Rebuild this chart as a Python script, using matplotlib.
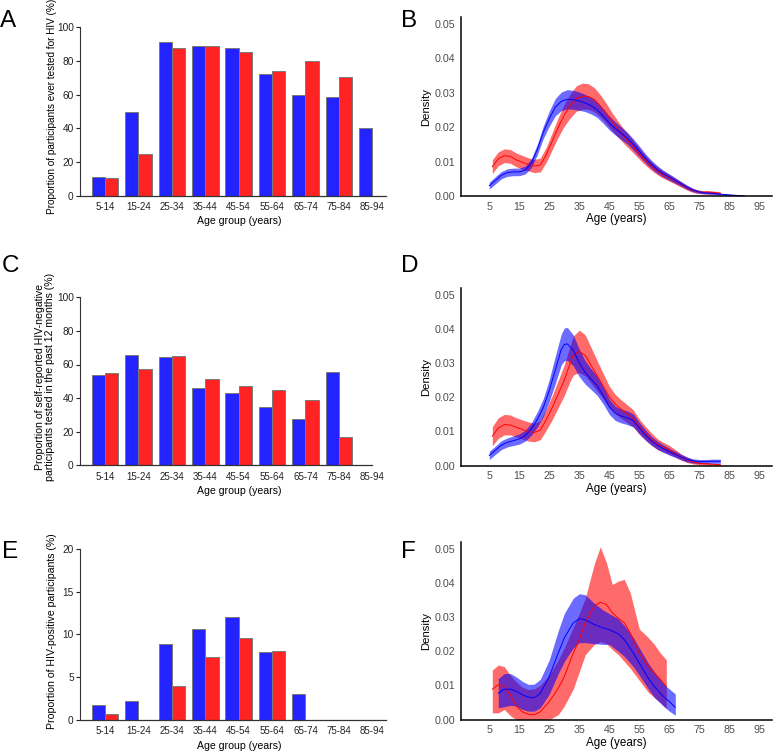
import numpy as np
import matplotlib
matplotlib.use("Agg")
import matplotlib.pyplot as plt

plt.rcParams['font.family'] = ['Liberation Sans', 'DejaVu Sans']

BLUE = '#2323FF'
RED = '#FF2323'

# ---- bar panels (A, C, E) ----
age_groups = ['5-14', '15-24', '25-34', '35-44', '45-54', '55-64', '65-74', '75-84', '85-94']

a_blue = [10.9, 49.5, 91.1, 89.1, 87.5, 72.3, 60.0, 58.8, 40.0]
a_red = [10.3, 24.8, 87.5, 88.9, 85.1, 74.1, 80.0, 70.3, 0.0]

c_blue = [53.6, 65.5, 64.7, 45.8, 43.3, 34.5, 27.4, 55.8, 0.0]
c_red = [55.2, 57.1, 64.9, 51.6, 47.2, 44.6, 39.1, 16.7, np.nan]

e_blue = [1.72, 2.15, 8.9, 10.6, 12.03, 7.93, 3.05, 0.0, 0.0]
e_red = [0.7, 0.0, 3.95, 7.34, 9.57, 8.09, 0.0, 0.0, 0.0]

# ---- density panels (B, D, F): age, estimate, lower, upper ----
b_blue_age = [5, 7, 9, 11, 13, 15, 17, 19, 21, 23, 25, 27, 29, 31, 33, 35, 37, 39, 41, 43, 45,
              47, 49, 51, 53, 55, 57, 59, 61, 63, 65, 67, 69, 71, 73, 75, 77, 79, 81, 84, 87, 90]
b_blue_mid = [.0030, .0045, .0060, .0068, .0070, .0070, .0075, .0095, .0135, .0185, .0225, .0258,
              .0275, .0281, .0280, .0276, .0270, .0262, .0250, .0232, .0212, .0196, .0182, .0168,
              .0150, .0130, .0110, .0092, .0077, .0065, .0055, .0045, .0035, .0025, .0017, .0012,
              .0009, .0008, .0006, .0004, .0002, .0000]
b_blue_lo = [.0020, .0035, .0050, .0057, .0059, .0059, .0064, .0082, .0120, .0167, .0203, .0233,
             .0248, .0253, .0252, .0249, .0245, .0238, .0228, .0211, .0192, .0177, .0164, .0151,
             .0134, .0115, .0097, .0080, .0066, .0055, .0046, .0037, .0028, .0019, .0012, .0008,
             .0006, .0005, .0004, .0002, .0001, .0000]
b_blue_hi = [.0040, .0056, .0071, .0079, .0081, .0081, .0087, .0108, .0150, .0203, .0247, .0283,
             .0302, .0309, .0307, .0302, .0295, .0286, .0272, .0253, .0232, .0215, .0200, .0185,
             .0166, .0145, .0123, .0104, .0088, .0075, .0064, .0053, .0042, .0031, .0022, .0016,
             .0012, .0011, .0009, .0006, .0003, .0001]

b_red_age = [6, 8, 10, 12, 14, 16, 18, 20, 22, 24, 26, 28, 30, 32, 34, 36, 38, 40, 42, 44, 46,
             48, 50, 52, 54, 56, 58, 60, 62, 64, 66, 68, 70, 72, 74, 76, 78, 80, 82]
b_red_mid = [.0085, .0108, .0117, .0115, .0105, .0098, .0092, .0087, .0090, .0120, .0160, .0200,
             .0235, .0262, .0283, .0290, .0289, .0280, .0262, .0240, .0215, .0193, .0172, .0153,
             .0133, .0113, .0095, .0080, .0067, .0057, .0048, .0038, .0028, .0019, .0013, .0011,
             .0011, .0010, .0008]
b_red_lo = [.0065, .0088, .0097, .0095, .0085, .0078, .0073, .0068, .0070, .0098, .0135, .0172,
            .0203, .0227, .0246, .0252, .0252, .0245, .0230, .0211, .0189, .0170, .0151, .0134,
            .0116, .0098, .0082, .0068, .0056, .0047, .0039, .0030, .0021, .0013, .0008, .0006,
            .0006, .0006, .0004]
b_red_hi = [.0105, .0128, .0137, .0135, .0125, .0118, .0111, .0106, .0110, .0142, .0185, .0228,
            .0267, .0297, .0320, .0328, .0326, .0315, .0294, .0269, .0241, .0216, .0193, .0172,
            .0150, .0128, .0108, .0092, .0078, .0067, .0057, .0046, .0035, .0025, .0018, .0016,
            .0016, .0014, .0012]

d_blue_age = [5, 7, 9, 11, 13, 15, 17, 19, 21, 23, 25, 27, 29, 30, 31, 33, 35, 37, 39, 41, 43,
              45, 47, 49, 51, 53, 55, 57, 59, 61, 63, 65, 67, 69, 71, 73, 75, 77, 79, 82]
d_blue_mid = [.0030, .0045, .0060, .0068, .0073, .0078, .0088, .0107, .0135, .0170, .0220, .0280,
              .0340, .0354, .0356, .0337, .0300, .0272, .0252, .0233, .0205, .0172, .0153, .0145,
              .0140, .0132, .0110, .0090, .0073, .0060, .0050, .0041, .0033, .0025, .0018, .0014,
              .0012, .0012, .0013, .0013]
d_blue_lo = [.0018, .0033, .0047, .0055, .0059, .0063, .0072, .0089, .0113, .0144, .0188, .0240,
             .0295, .0306, .0308, .0292, .0260, .0238, .0222, .0205, .0180, .0150, .0132, .0125,
             .0120, .0113, .0093, .0075, .0060, .0048, .0039, .0031, .0024, .0017, .0011, .0008,
             .0006, .0006, .0007, .0007]
d_blue_hi = [.0042, .0057, .0073, .0081, .0087, .0093, .0104, .0125, .0157, .0196, .0252, .0320,
             .0385, .0402, .0404, .0382, .0340, .0306, .0282, .0261, .0230, .0194, .0174, .0165,
             .0160, .0151, .0127, .0105, .0086, .0072, .0061, .0051, .0042, .0033, .0025, .0020,
             .0018, .0018, .0019, .0019]

d_red_age = [6, 8, 10, 12, 14, 16, 18, 20, 22, 24, 26, 28, 30, 32, 33, 35, 37, 39, 41, 43, 45,
             47, 49, 51, 53, 55, 57, 59, 61, 63, 65, 67, 69, 71, 73, 75, 78, 82]
d_red_mid = [.0086, .0110, .0120, .0119, .0112, .0106, .0100, .0097, .0104, .0135, .0170, .0210,
             .0250, .0300, .0322, .0334, .0322, .0292, .0262, .0232, .0201, .0180, .0165, .0152,
             .0138, .0114, .0095, .0078, .0063, .0054, .0046, .0036, .0025, .0017, .0011, .0007,
             .0005, .0003]
d_red_lo = [.0058, .0080, .0090, .0090, .0084, .0078, .0072, .0070, .0076, .0104, .0135, .0170,
            .0205, .0248, .0265, .0272, .0262, .0240, .0218, .0195, .0170, .0152, .0138, .0126,
            .0113, .0092, .0075, .0060, .0047, .0040, .0033, .0025, .0016, .0009, .0005, .0003,
            .0002, .0001]
d_red_hi = [.0114, .0140, .0150, .0148, .0140, .0134, .0128, .0124, .0132, .0166, .0205, .0250,
            .0295, .0352, .0379, .0396, .0382, .0344, .0306, .0269, .0232, .0208, .0192, .0178,
            .0163, .0136, .0115, .0096, .0079, .0068, .0059, .0047, .0034, .0025, .0017, .0011,
            .0008, .0005]

f_blue_age = [8, 10, 12, 14, 16, 18, 20, 22, 25, 28, 30, 33, 35, 37, 40, 43, 45, 48, 50, 53, 55,
              58, 60, 63, 65, 67]
f_blue_mid = [.0077, .0089, .0089, .0083, .0073, .0066, .0064, .0077, .0126, .0195, .0239, .0283,
              .0295, .0292, .0278, .0268, .0263, .0251, .0234, .0195, .0165, .0121, .0097, .0068,
              .0053, .0036]
f_blue_lo = [.0035, .0038, .0042, .0040, .0030, .0025, .0025, .0035, .0075, .0135, .0170, .0210,
             .0225, .0225, .0222, .0220, .0220, .0200, .0185, .0155, .0130, .0090, .0065, .0040,
             .0025, .0013]
f_blue_hi = [.0120, .0135, .0135, .0125, .0112, .0103, .0104, .0118, .0175, .0260, .0310, .0355,
             .0368, .0365, .0340, .0320, .0310, .0295, .0275, .0240, .0210, .0165, .0140, .0105,
             .0090, .0075]

f_red_age = [6, 8, 10, 12, 14, 16, 18, 20, 22, 25, 28, 30, 33, 35, 37, 40, 42, 44, 46, 48, 50,
             52, 55, 58, 60, 62, 64]
f_red_mid = [.0089, .0102, .0097, .0072, .0040, .0023, .0016, .0015, .0023, .0053, .0092, .0126,
             .0195, .0234, .0283, .0332, .0343, .0337, .0312, .0297, .0283, .0253, .0195, .0156,
             .0136, .0118, .0097]
f_red_lo = [.0020, .0020, .0030, .0012, .0000, .0000, .0000, .0000, .0000, .0000, .0015, .0040,
            .0090, .0140, .0190, .0220, .0228, .0222, .0205, .0190, .0170, .0150, .0115, .0080,
            .0065, .0050, .0033]
f_red_hi = [.0145, .0160, .0155, .0130, .0110, .0095, .0088, .0090, .0100, .0130, .0175, .0210,
            .0270, .0310, .0355, .0455, .0505, .0460, .0395, .0405, .0410, .0370, .0265, .0240,
            .0220, .0195, .0175]

W, H = 774, 751
fig = plt.figure(figsize=(W / 100, H / 100), dpi=100)


def px_axes(left, top, right, bottom):
    return fig.add_axes([left / W, 1 - bottom / H, (right - left) / W, (bottom - top) / H])


def bar_panel(ax, blue, red, ymax, step):
    centers = np.arange(len(age_groups)) * 2.5
    ax.bar(centers - 0.5, blue, width=1.0, color=BLUE, edgecolor='#7a7a7a', linewidth=0.7)
    ax.bar(centers + 0.5, red, width=1.0, color=RED, edgecolor='#7a7a7a', linewidth=0.7)
    ax.set_xlim(-1.875, 21.1)
    ax.set_ylim(0, ymax)
    for s in ['top', 'right']:
        ax.spines[s].set_visible(False)
    # baseline runs to the last drawn bar
    last = max([c + 1.0 for c, v in zip(centers, red) if not np.isnan(v)] +
               [c for c, v in zip(centers, blue) if not np.isnan(v)])
    ax.spines['bottom'].set_bounds(-1.875, last)
    ax.spines['bottom'].set_color('#333333')
    ax.spines['bottom'].set_linewidth(0.9)
    ax.spines['left'].set_bounds(0, ymax)
    ax.spines['left'].set_color('#333333')
    ax.spines['left'].set_linewidth(0.8)
    ax.set_yticks(np.arange(0, ymax + 0.1, step))
    ax.tick_params(axis='y', length=3, width=0.8, pad=1.5, labelsize=7.3, colors='#222222')
    ax.set_xticks(centers)
    ax.set_xticklabels(age_groups)
    ax.tick_params(axis='x', length=0, pad=4.5, labelsize=7, colors='#222222')
    ax.set_xlabel('Age group (years)', fontsize=7.6)
    ax.xaxis.set_label_coords(0.518, -0.122)
    ax.xaxis.label.set_verticalalignment('top')


def density_panel(ax, series):
    for age, mid, lo, hi, col in series:
        ax.fill_between(age, lo, hi, color=col, alpha=0.58, linewidth=0)
    for age, mid, lo, hi, col in series:
        ax.plot(age, mid, color=col, linewidth=0.7)
    ax.set_xlim(-4.53, 99.13)
    ax.set_ylim(0, 0.052)
    ax.set_xticks(np.arange(5, 96, 10))
    ax.set_yticks([0, 0.01, 0.02, 0.03, 0.04, 0.05])
    ax.set_yticklabels(['0.00', '0.01', '0.02', '0.03', '0.04', '0.05'])
    for s in ['top', 'right']:
        ax.spines[s].set_visible(False)
    for s in ['left', 'bottom']:
        ax.spines[s].set_linewidth(1.1)
        ax.spines[s].set_color('black')
    ax.tick_params(length=0, pad=4, labelsize=7.7, colors='#4d4d4d')
    ax.set_xlabel('Age (years)', fontsize=8.4)
    ax.xaxis.set_label_coords(0.5, -0.097)
    ax.xaxis.label.set_verticalalignment('top')
    ax.set_ylabel('Density', fontsize=8.2)
    ax.yaxis.set_label_coords(-0.095, 0.5)


# A
axA = px_axes(80, 27.3, 387, 195.7)
bar_panel(axA, a_blue, a_red, 100, 20)
fig.text(52 / W, 1 - 214 / H, 'Proportion of participants ever tested for HIV (%)',
         rotation=90, ha='center', va='bottom', fontsize=7.2)

# C
axC = px_axes(80, 297.3, 387, 465.3)
bar_panel(axC, c_blue, c_red, 100, 20)
fig.text(45 / W, 1 - 377 / H,
         'Proportion of self-reported HIV-negative\nparticipants tested in the past 12 months (%)',
         rotation=90, ha='center', va='center', fontsize=7.6, linespacing=0.95,
         multialignment='center')

# E
axE = px_axes(80, 549, 387, 719.7)
bar_panel(axE, e_blue, e_red, 20, 5)
fig.text(52 / W, 1 - 631 / H, 'Proportion of HIV-positive participants (%)',
         rotation=90, ha='center', va='center', fontsize=7.6)

# B
axB = px_axes(460.7, 17, 771.7, 196)
density_panel(axB, [(b_red_age, b_red_mid, b_red_lo, b_red_hi, 'red'),
                    (b_blue_age, b_blue_mid, b_blue_lo, b_blue_hi, 'blue')])

# D
axD = px_axes(460.7, 287.7, 771.7, 465.7)
density_panel(axD, [(d_red_age, d_red_mid, d_red_lo, d_red_hi, 'red'),
                    (d_blue_age, d_blue_mid, d_blue_lo, d_blue_hi, 'blue')])

# F
axF = px_axes(460.7, 541.7, 771.7, 719.7)
density_panel(axF, [(f_red_age, f_red_mid, f_red_lo, f_red_hi, 'red'),
                    (f_blue_age, f_blue_mid, f_blue_lo, f_blue_hi, 'blue')])

# panel letters
for letter, x, y in [('A', 0, 27), ('B', 401, 27), ('C', 1.5, 272.3),
                     ('D', 401, 272.3), ('E', 2, 558.3), ('F', 401, 558.3)]:
    fig.text(x / W, 1 - y / H, letter, fontsize=17.5, ha='left', va='baseline')

fig.savefig('out.png', dpi=100, facecolor='white')
